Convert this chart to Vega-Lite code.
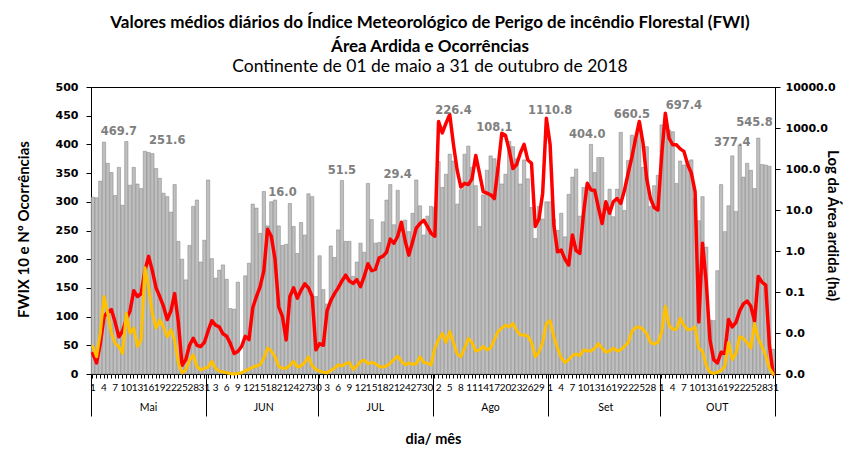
{
  "$schema": "https://vega.github.io/schema/vega-lite/v6.json",
  "width": 684,
  "height": 287,
  "autosize": "none",
  "padding": {"left": 91, "top": 87, "right": 79, "bottom": 76},
  "background": "#ffffff",
  "title": {
    "text": ["Valores  médios diários do  Índice Meteorológico de Perigo de incêndio Florestal (FWI)", "Área Ardida  e  Ocorrências"],
    "subtitle": "Continente de 01 de maio a 31 de outubro  de 2018",
    "font": "Lato", "fontSize": 17, "fontWeight": "bold", "color": "#000000", "lineHeight": 24,
    "subtitleFont": "Lato", "subtitleFontSize": 17.5, "subtitleFontWeight": "normal", "subtitleColor": "#000000",
    "subtitlePadding": 2, "anchor": "middle", "offset": 5, "dx": -3
  },
  "datasets": {
    "dias": [
      {"dia":"2018-05-01","fwi":308,"oc":48,"la":-2.50},{"dia":"2018-05-02","fwi":307,"oc":30,"la":-2.73},{"dia":"2018-05-03","fwi":336,"oc":71,"la":-2.26},{"dia":"2018-05-04","fwi":404,"oc":135,"la":-1.60},{"dia":"2018-05-05","fwi":367,"oc":106,"la":-1.49},{"dia":"2018-05-06","fwi":351,"oc":71,"la":-1.43},{"dia":"2018-05-07","fwi":311,"oc":53,"la":-1.74},{"dia":"2018-05-08","fwi":360,"oc":48,"la":-2.09},{"dia":"2018-05-09","fwi":294,"oc":36,"la":-1.95},{"dia":"2018-05-10","fwi":405,"oc":106,"la":-1.67},
      {"dia":"2018-05-11","fwi":329,"oc":71,"la":-1.46},{"dia":"2018-05-12","fwi":360,"oc":80,"la":-0.97},{"dia":"2018-05-13","fwi":331,"oc":48,"la":-1.11},{"dia":"2018-05-14","fwi":323,"oc":59,"la":-1.04},{"dia":"2018-05-15","fwi":388,"oc":185,"la":-0.48},{"dia":"2018-05-16","fwi":386,"oc":152,"la":-0.13},{"dia":"2018-05-17","fwi":384,"oc":106,"la":-0.48},{"dia":"2018-05-18","fwi":358,"oc":80,"la":-0.90},{"dia":"2018-05-19","fwi":341,"oc":94,"la":-1.11},{"dia":"2018-05-20","fwi":315,"oc":82,"la":-1.35},
      {"dia":"2018-05-21","fwi":309,"oc":65,"la":-1.67},{"dia":"2018-05-22","fwi":282,"oc":77,"la":-1.46},{"dia":"2018-05-23","fwi":330,"oc":59,"la":-1.04},{"dia":"2018-05-24","fwi":231,"oc":19,"la":-1.74},{"dia":"2018-05-25","fwi":200,"oc":2,"la":-2.79},{"dia":"2018-05-26","fwi":164,"oc":7,"la":-2.65},{"dia":"2018-05-27","fwi":224,"oc":24,"la":-2.30},{"dia":"2018-05-28","fwi":292,"oc":33,"la":-2.13},{"dia":"2018-05-29","fwi":303,"oc":13,"la":-2.30},{"dia":"2018-05-30","fwi":195,"oc":7,"la":-2.33},{"dia":"2018-05-31","fwi":233,"oc":10,"la":-2.23},
      {"dia":"2018-06-01","fwi":338,"oc":12,"la":-1.95},{"dia":"2018-06-02","fwi":201,"oc":22,"la":-1.70},{"dia":"2018-06-03","fwi":167,"oc":10,"la":-1.81},{"dia":"2018-06-04","fwi":181,"oc":5,"la":-1.85},{"dia":"2018-06-05","fwi":190,"oc":4,"la":-2.02},{"dia":"2018-06-06","fwi":165,"oc":2,"la":-2.08},{"dia":"2018-06-07","fwi":114,"oc":1,"la":-2.26},{"dia":"2018-06-08","fwi":113,"oc":0,"la":-2.50},{"dia":"2018-06-09","fwi":160,"oc":1,"la":-2.45},{"dia":"2018-06-10","fwi":0,"oc":2,"la":-2.33},
      {"dia":"2018-06-11","fwi":171,"oc":6,"la":-2.08},{"dia":"2018-06-12","fwi":193,"oc":8,"la":-2.16},{"dia":"2018-06-13","fwi":296,"oc":12,"la":-1.39},{"dia":"2018-06-14","fwi":289,"oc":14,"la":-1.11},{"dia":"2018-06-15","fwi":245,"oc":16,"la":-0.87},{"dia":"2018-06-16","fwi":318,"oc":28,"la":-0.48},{"dia":"2018-06-17","fwi":258,"oc":45,"la":0.53},{"dia":"2018-06-18","fwi":300,"oc":40,"la":0.36},{"dia":"2018-06-19","fwi":303,"oc":30,"la":-0.20},{"dia":"2018-06-20","fwi":258,"oc":13,"la":-1.36},
      {"dia":"2018-06-21","fwi":224,"oc":10,"la":-1.60},{"dia":"2018-06-22","fwi":226,"oc":10,"la":-2.17},{"dia":"2018-06-23","fwi":297,"oc":15,"la":-1.11},{"dia":"2018-06-24","fwi":257,"oc":22,"la":-0.90},{"dia":"2018-06-25","fwi":210,"oc":12,"la":-1.15},{"dia":"2018-06-26","fwi":264,"oc":14,"la":-0.96},{"dia":"2018-06-27","fwi":242,"oc":20,"la":-0.80},{"dia":"2018-06-28","fwi":314,"oc":30,"la":-0.90},{"dia":"2018-06-29","fwi":309,"oc":14,"la":-1.11},{"dia":"2018-06-30","fwi":135,"oc":8,"la":-2.41},
      {"dia":"2018-07-01","fwi":206,"oc":5,"la":-2.26},{"dia":"2018-07-02","fwi":147,"oc":3,"la":-2.30},{"dia":"2018-07-03","fwi":122,"oc":2,"la":-1.46},{"dia":"2018-07-04","fwi":223,"oc":6,"la":-1.21},{"dia":"2018-07-05","fwi":203,"oc":10,"la":-1.04},{"dia":"2018-07-06","fwi":251,"oc":16,"la":-0.90},{"dia":"2018-07-07","fwi":337,"oc":14,"la":-0.73},{"dia":"2018-07-08","fwi":231,"oc":18,"la":-0.59},{"dia":"2018-07-09","fwi":231,"oc":20,"la":-0.73},{"dia":"2018-07-10","fwi":170,"oc":8,"la":-0.79},
      {"dia":"2018-07-11","fwi":195,"oc":14,"la":-0.70},{"dia":"2018-07-12","fwi":228,"oc":22,"la":-0.87},{"dia":"2018-07-13","fwi":212,"oc":24,"la":-0.62},{"dia":"2018-07-14","fwi":332,"oc":18,"la":-0.31},{"dia":"2018-07-15","fwi":269,"oc":20,"la":-0.48},{"dia":"2018-07-16","fwi":228,"oc":18,"la":-0.45},{"dia":"2018-07-17","fwi":229,"oc":13,"la":-0.17},{"dia":"2018-07-18","fwi":265,"oc":12,"la":-0.13},{"dia":"2018-07-19","fwi":303,"oc":14,"la":-0.03},{"dia":"2018-07-20","fwi":330,"oc":19,"la":0.29},
      {"dia":"2018-07-21","fwi":260,"oc":25,"la":0.19},{"dia":"2018-07-22","fwi":320,"oc":31,"la":0.36},{"dia":"2018-07-23","fwi":255,"oc":22,"la":0.70},{"dia":"2018-07-24","fwi":268,"oc":16,"la":0.25},{"dia":"2018-07-25","fwi":248,"oc":19,"la":-0.10},{"dia":"2018-07-26","fwi":280,"oc":17,"la":0.22},{"dia":"2018-07-27","fwi":338,"oc":18,"la":0.56},{"dia":"2018-07-28","fwi":293,"oc":30,"la":0.67},{"dia":"2018-07-29","fwi":242,"oc":20,"la":0.75},{"dia":"2018-07-30","fwi":275,"oc":19,"la":0.60},{"dia":"2018-07-31","fwi":292,"oc":16,"la":0.43},
      {"dia":"2018-08-01","fwi":290,"oc":45,"la":0.36},{"dia":"2018-08-02","fwi":370,"oc":60,"la":3.16},{"dia":"2018-08-03","fwi":325,"oc":71,"la":2.88},{"dia":"2018-08-04","fwi":348,"oc":55,"la":3.12},{"dia":"2018-08-05","fwi":383,"oc":74,"la":3.33},{"dia":"2018-08-06","fwi":371,"oc":55,"la":2.60},{"dia":"2018-08-07","fwi":296,"oc":35,"la":1.97},{"dia":"2018-08-08","fwi":321,"oc":30,"la":1.56},{"dia":"2018-08-09","fwi":383,"oc":45,"la":1.65},{"dia":"2018-08-10","fwi":397,"oc":62,"la":1.62},
      {"dia":"2018-08-11","fwi":360,"oc":55,"la":1.76},{"dia":"2018-08-12","fwi":328,"oc":40,"la":2.33},{"dia":"2018-08-13","fwi":257,"oc":42,"la":1.90},{"dia":"2018-08-14","fwi":312,"oc":48,"la":1.45},{"dia":"2018-08-15","fwi":355,"oc":42,"la":1.41},{"dia":"2018-08-16","fwi":380,"oc":45,"la":1.37},{"dia":"2018-08-17","fwi":375,"oc":60,"la":1.28},{"dia":"2018-08-18","fwi":360,"oc":74,"la":2.04},{"dia":"2018-08-19","fwi":331,"oc":80,"la":2.87},{"dia":"2018-08-20","fwi":348,"oc":85,"la":2.82},
      {"dia":"2018-08-21","fwi":405,"oc":82,"la":2.46},{"dia":"2018-08-22","fwi":396,"oc":88,"la":2.01},{"dia":"2018-08-23","fwi":375,"oc":76,"la":2.11},{"dia":"2018-08-24","fwi":331,"oc":68,"la":2.39},{"dia":"2018-08-25","fwi":373,"oc":68,"la":2.60},{"dia":"2018-08-26","fwi":340,"oc":66,"la":2.22},{"dia":"2018-08-27","fwi":290,"oc":55,"la":2.14},{"dia":"2018-08-28","fwi":236,"oc":30,"la":0.60},{"dia":"2018-08-29","fwi":292,"oc":38,"la":0.78},{"dia":"2018-08-30","fwi":270,"oc":55,"la":1.41},{"dia":"2018-08-31","fwi":300,"oc":88,"la":3.24},
      {"dia":"2018-09-01","fwi":300,"oc":93,"la":2.60},{"dia":"2018-09-02","fwi":270,"oc":65,"la":0.64},{"dia":"2018-09-03","fwi":250,"oc":45,"la":-0.02},{"dia":"2018-09-04","fwi":280,"oc":28,"la":0.02},{"dia":"2018-09-05","fwi":239,"oc":20,"la":-0.20},{"dia":"2018-09-06","fwi":313,"oc":25,"la":-0.34},{"dia":"2018-09-07","fwi":343,"oc":32,"la":0.39},{"dia":"2018-09-08","fwi":357,"oc":35,"la":0.01},{"dia":"2018-09-09","fwi":275,"oc":32,"la":-0.06},{"dia":"2018-09-10","fwi":325,"oc":42,"la":0.92},
      {"dia":"2018-09-11","fwi":326,"oc":40,"la":1.65},{"dia":"2018-09-12","fwi":400,"oc":40,"la":1.49},{"dia":"2018-09-13","fwi":351,"oc":45,"la":1.48},{"dia":"2018-09-14","fwi":377,"oc":53,"la":1.06},{"dia":"2018-09-15","fwi":377,"oc":45,"la":0.67},{"dia":"2018-09-16","fwi":297,"oc":38,"la":1.20},{"dia":"2018-09-17","fwi":322,"oc":40,"la":0.92},{"dia":"2018-09-18","fwi":274,"oc":45,"la":1.20},{"dia":"2018-09-19","fwi":322,"oc":40,"la":1.28},{"dia":"2018-09-20","fwi":421,"oc":42,"la":1.16},
      {"dia":"2018-09-21","fwi":285,"oc":48,"la":1.48},{"dia":"2018-09-22","fwi":372,"oc":55,"la":1.90},{"dia":"2018-09-23","fwi":416,"oc":74,"la":2.29},{"dia":"2018-09-24","fwi":408,"oc":81,"la":2.74},{"dia":"2018-09-25","fwi":437,"oc":82,"la":3.16},{"dia":"2018-09-26","fwi":360,"oc":78,"la":2.63},{"dia":"2018-09-27","fwi":396,"oc":70,"la":1.76},{"dia":"2018-09-28","fwi":292,"oc":55,"la":1.28},{"dia":"2018-09-29","fwi":328,"oc":52,"la":1.06},{"dia":"2018-09-30","fwi":346,"oc":55,"la":1.00},
      {"dia":"2018-10-01","fwi":434,"oc":72,"la":2.32},{"dia":"2018-10-02","fwi":430,"oc":118,"la":3.36},{"dia":"2018-10-03","fwi":425,"oc":85,"la":2.75},{"dia":"2018-10-04","fwi":422,"oc":78,"la":2.59},{"dia":"2018-10-05","fwi":332,"oc":78,"la":2.59},{"dia":"2018-10-06","fwi":371,"oc":97,"la":2.49},{"dia":"2018-10-07","fwi":364,"oc":85,"la":2.43},{"dia":"2018-10-08","fwi":371,"oc":77,"la":2.11},{"dia":"2018-10-09","fwi":373,"oc":78,"la":1.90},{"dia":"2018-10-10","fwi":305,"oc":82,"la":1.45},
      {"dia":"2018-10-11","fwi":267,"oc":45,"la":-1.73},{"dia":"2018-10-12","fwi":309,"oc":40,"la":0.19},{"dia":"2018-10-13","fwi":221,"oc":15,"la":-0.76},{"dia":"2018-10-14","fwi":94,"oc":3,"la":-2.16},{"dia":"2018-10-15","fwi":93,"oc":1,"la":-2.65},{"dia":"2018-10-16","fwi":180,"oc":3,"la":-2.73},{"dia":"2018-10-17","fwi":330,"oc":6,"la":-2.47},{"dia":"2018-10-18","fwi":248,"oc":13,"la":-2.50},{"dia":"2018-10-19","fwi":293,"oc":55,"la":-1.67},{"dia":"2018-10-20","fwi":380,"oc":25,"la":-1.85},
      {"dia":"2018-10-21","fwi":283,"oc":36,"la":-1.74},{"dia":"2018-10-22","fwi":399,"oc":65,"la":-1.46},{"dia":"2018-10-23","fwi":343,"oc":62,"la":-1.29},{"dia":"2018-10-24","fwi":367,"oc":55,"la":-1.22},{"dia":"2018-10-25","fwi":355,"oc":45,"la":-1.35},{"dia":"2018-10-26","fwi":323,"oc":88,"la":-1.71},{"dia":"2018-10-27","fwi":411,"oc":62,"la":-0.62},{"dia":"2018-10-28","fwi":365,"oc":48,"la":-0.76},{"dia":"2018-10-29","fwi":364,"oc":32,"la":-0.83},{"dia":"2018-10-30","fwi":362,"oc":10,"la":-2.30},{"dia":"2018-10-31","fwi":43,"oc":0,"la":-3.00}
    ],
    "rotulos": [
      {"dia":"2018-05-08","y":422,"txt":"469.7"},
      {"dia":"2018-05-21","y":406,"txt":"251.6"},
      {"dia":"2018-06-21","y":315,"txt":"16.0"},
      {"dia":"2018-07-07","y":354,"txt":"51.5"},
      {"dia":"2018-07-22","y":347,"txt":"29.4"},
      {"dia":"2018-08-06","y":458,"txt":"226.4"},
      {"dia":"2018-08-17","y":428,"txt":"108.1"},
      {"dia":"2018-09-01","y":458,"txt":"1110.8"},
      {"dia":"2018-09-11","y":416,"txt":"404.0"},
      {"dia":"2018-09-23","y":452,"txt":"660.5"},
      {"dia":"2018-10-07","y":467,"txt":"697.4"},
      {"dia":"2018-10-20","y":402,"txt":"377.4"},
      {"dia":"2018-10-26","y":438,"txt":"545.8"}
    ],
    "meses": [
      {"ini":0,"mes":"Mai"},{"ini":31,"mes":"JUN"},{"ini":61,"mes":"JUL"},{"ini":92,"mes":"Ago"},{"ini":123,"mes":"Set"},{"ini":153,"mes":"OUT"},{"ini":184,"mes":""}
    ]
  },
  "layer": [
    {
      "data": {"name": "dias"},
      "layer": [
        {
          "mark": {"type": "bar", "fill": "#bfbfbf", "stroke": "#7f7f7f", "strokeWidth": 0.5},
          "encoding": {
            "x": {
              "field": "dia", "type": "ordinal",
              "scale": {"paddingInner": 0.12, "paddingOuter": 0.06},
              "axis": {
                "orient": "bottom", "labelAngle": 0, "labelOverlap": false, "labelFont": "Lato", "labelFontSize": 10,
                "labelExpr": "(round((toDate(datum.value) - toDate('2018-05-01')) / 86400000) % 3 == 0) ? utcdate(toDate(datum.value)) : ''",
                "tickSize": 4, "labelPadding": 4, "domainColor": "#000000", "tickColor": "#000000", "labelColor": "#000000",
                "title": "dia/ mês", "titleFont": "Lato", "titleFontSize": 14.5, "titleFontWeight": "bold", "titleColor": "#000000",
                "titleY": 69, "titleBaseline": "alphabetic"
              }
            },
            "y": {
              "field": "fwi", "type": "quantitative",
              "scale": {"domain": [0, 500], "nice": false},
              "axis": {
                "orient": "left", "values": [0, 50, 100, 150, 200, 250, 300, 350, 400, 450, 500], "grid": false,
                "labelFont": "DejaVu Sans", "labelFontWeight": "bold", "labelFontSize": 11, "labelColor": "#000000",
                "tickSize": 5, "labelPadding": 8, "domainColor": "#000000", "tickColor": "#000000",
                "title": "FWIX 10 e  Nº Ocorrências", "titleFont": "Lato", "titleFontSize": 15, "titleFontWeight": "bold", "titleColor": "#000000",
                "titleX": -68, "titleY": 142, "titleBaseline": "middle", "titleAngle": 270
              }
            }
          }
        },
        {
          "mark": {"type": "line", "color": "#ff0000", "strokeWidth": 3.5, "strokeJoin": "round", "strokeCap": "round"},
          "encoding": {
            "x": {"field": "dia", "type": "ordinal"},
            "y": {
              "field": "la", "type": "quantitative",
              "scale": {"domain": [-3, 4], "nice": false, "zero": false},
              "axis": {
                "orient": "right", "values": [-3, -2, -1, 0, 1, 2, 3, 4], "grid": false,
                "labelExpr": "format(pow(10, datum.value), '.1f')",
                "labelFont": "DejaVu Sans", "labelFontWeight": "bold", "labelFontSize": 11, "labelColor": "#000000",
                "tickSize": 5, "labelPadding": 5, "domainColor": "#000000", "tickColor": "#000000",
                "title": "Log da Área   ardida (ha)", "titleFont": "Lato", "titleFontSize": 15, "titleFontWeight": "bold", "titleColor": "#000000",
                "titleX": 57, "titleY": 138, "titleBaseline": "middle", "titleAngle": 90
              }
            }
          }
        },
        {
          "mark": {"type": "line", "color": "#ffc000", "strokeWidth": 3, "strokeJoin": "round", "strokeCap": "round"},
          "encoding": {
            "x": {"field": "dia", "type": "ordinal"},
            "y": {"field": "oc", "type": "quantitative", "scale": {"domain": [0, 500], "nice": false}, "axis": null}
          }
        },
        {
          "data": {"name": "rotulos"},
          "mark": {"type": "text", "font": "DejaVu Sans", "fontWeight": "bold", "fontSize": 11.5, "color": "#808080", "baseline": "middle", "align": "center"},
          "encoding": {
            "x": {"field": "dia", "type": "ordinal"},
            "y": {"field": "y", "type": "quantitative", "scale": {"domain": [0, 500], "nice": false}, "axis": null},
            "text": {"field": "txt", "type": "nominal"}
          }
        }
      ],
      "resolve": {"scale": {"y": "independent"}}
    },
    {
      "data": {"name": "meses"},
      "mark": {"type": "rule", "opacity": 0},
      "encoding": {
        "x": {
          "field": "ini", "type": "quantitative",
          "scale": {"domain": [0, 184], "nice": false, "zero": false},
          "axis": {
            "orient": "bottom", "values": [0, 31, 61, 92, 123, 153, 184], "grid": false, "domain": false,
            "ticks": true, "tickSize": 42, "tickColor": "#000000", "tickWidth": 1, "tickOpacity": 1,
            "labelExpr": "datum.value == 0 ? 'Mai' : datum.value == 31 ? 'JUN' : datum.value == 61 ? 'JUL' : datum.value == 92 ? 'Ago' : datum.value == 123 ? 'Set' : datum.value == 153 ? 'OUT' : ''",
            "labelOffset": 57, "labelPadding": -14, "labelFont": "Lato", "labelFontSize": 10.5, "labelColor": "#000000",
            "labelAlign": "center", "labelBaseline": "top", "labelFlush": false, "labelOverlap": false,
            "title": null
          }
        }
      }
    }
  ],
  "resolve": {"scale": {"x": "independent"}},
  "config": {
    "view": {"stroke": "#000000", "strokeWidth": 1},
    "axis": {"grid": false}
  }
}
